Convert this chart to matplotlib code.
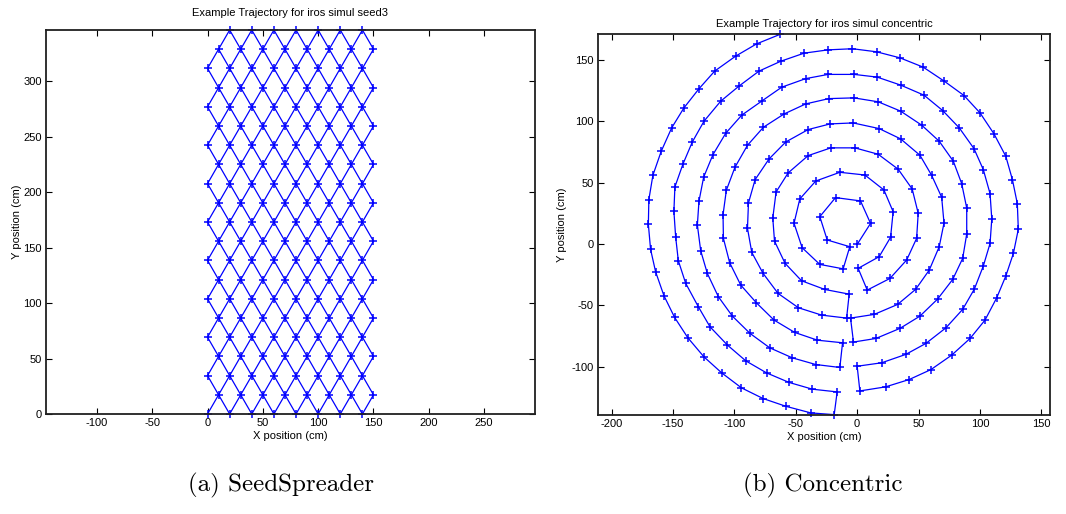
import matplotlib
matplotlib.use("Agg")
import matplotlib.pyplot as plt

plt.rcParams["font.family"] = ["Liberation Sans", "DejaVu Sans"]
plt.rcParams["axes.unicode_minus"] = False

# ---------------- SeedSpreader lattice ----------------
# rows of the diamond lattice (y, cm); even rows hold even_row_x, odd rows odd_row_x
row_y = [0.0, 17.3, 34.6, 52.0, 69.3, 86.6, 103.9, 121.2, 138.6, 155.9, 173.2,
         190.5, 207.8, 225.2, 242.5, 259.8, 277.1, 294.4, 311.8, 329.1, 346.4]
even_row_x = [0, 20, 40, 60, 80, 100, 120, 140]
odd_row_x = [10, 30, 50, 70, 90, 110, 130, 150]
unvisited = [(0, 346.4)]

# ---------------- Concentric rings (cm), in travel order ----------------
ring_1 = [(0.0, -0.3), (10.9, 16.8), (2.7, 35.1), (-17.6, 37.8), (-30.4, 22.3),
          (-24.4, 3.3), (-6.0, -2.2)]
ring_2 = [(-11.4, -20.2), (-30.4, -16.6), (-44.8, -3.0), (-51.4, 16.9), (-46.7, 36.7),
          (-33.7, 51.3), (-14.1, 58.4), (6.3, 56.2), (21.8, 44.0), (29.3, 26.3),
          (27.2, 5.5), (17.9, -10.3), (0.8, -19.8)]
ring_3 = [(8.2, -37.5), (26.7, -28.0), (40.3, -13.0), (48.4, 4.6), (49.7, 25.0),
          (44.8, 44.8), (33.4, 60.9), (17.1, 73.1), (-1.9, 78.3), (-21.4, 78.3),
          (-39.9, 72.0), (-56.2, 57.9), (-66.0, 42.4), (-68.7, 21.2), (-67.3, 2.4),
          (-58.7, -15.7), (-45.3, -29.9), (-26.3, -37.0), (-6.5, -40.8)]
ring_4 = [(-8.6, -60.3), (-28.8, -57.9), (-47.8, -51.9), (-64.4, -40.2), (-76.6, -23.9),
          (-85.8, -6.8), (-89.3, 12.8), (-88.5, 33.4), (-83.1, 52.4), (-71.7, 69.3),
          (-58.1, 83.1), (-39.9, 93.2), (-22.0, 97.8), (-3.3, 98.6), (17.9, 94.0),
          (35.4, 85.6), (51.1, 72.3), (60.6, 56.0), (68.8, 38.1), (70.7, 17.1),
          (66.8, -2.2), (58.7, -21.2), (47.6, -36.9), (32.9, -49.2), (13.9, -57.3),
          (-5.4, -60.3)]
ring_5 = [(-3.0, -79.8), (15.2, -76.9), (34.8, -68.7), (51.1, -58.7), (65.5, -44.8),
          (77.8, -28.8), (85.9, -11.7), (89.2, 8.2), (89.2, 29.3), (85.1, 49.2),
          (78.3, 67.4), (66.8, 83.7), (52.5, 96.8), (35.4, 108.2), (17.1, 115.8),
          (-2.7, 119.0), (-23.0, 118.4), (-41.8, 114.1), (-59.5, 105.9), (-76.3, 95.1),
          (-89.3, 80.4), (-99.5, 62.5), (-106.5, 43.8), (-109.2, 23.9), (-108.9, 4.6),
          (-103.8, -15.2), (-94.8, -33.4), (-82.0, -47.9), (-67.7, -61.9), (-50.8, -72.0),
          (-32.3, -78.3), (-11.9, -80.4)]
ring_6 = [(-14.1, -100.5), (-33.7, -98.1), (-52.7, -92.7), (-71.2, -84.5), (-87.2, -72.8),
          (-101.6, -58.7), (-113.0, -42.9), (-122.0, -23.9), (-127.4, -5.4), (-130.1, 15.5),
          (-128.8, 34.8), (-125.0, 54.4), (-117.4, 72.8), (-107.0, 90.2), (-94.0, 104.9),
          (-77.1, 116.8), (-61.4, 127.7), (-41.8, 134.7), (-23.6, 138.1), (-2.4, 138.1),
          (16.3, 135.9), (35.4, 129.4), (54.4, 121.2), (69.6, 108.7), (83.1, 94.6),
          (95.1, 77.7), (102.7, 60.6), (108.2, 41.0), (109.6, 20.4), (108.2, 0.5),
          (102.7, -17.9), (95.4, -36.7), (85.9, -53.2), (72.3, -68.2), (56.0, -80.9),
          (39.5, -89.9), (19.9, -96.7), (0.0, -99.5)]
ring_7 = [(2.2, -119.6), (23.1, -116.3), (42.4, -110.3), (60.1, -102.2), (76.9, -90.5),
          (91.9, -76.9), (104.1, -61.9), (113.6, -43.8), (121.0, -26.1), (127.2, -7.6),
          (131.2, 12.0), (130.4, 32.9), (126.4, 52.4), (121.0, 71.5), (111.4, 89.7),
          (100.0, 106.8), (87.0, 120.9), (70.9, 132.6), (53.8, 144.0), (34.8, 151.6),
          (15.8, 156.5), (-3.8, 159.0), (-23.6, 158.1), (-43.2, 155.4), (-62.0, 148.9),
          (-79.9, 140.8), (-96.2, 128.6), (-111.1, 116.3), (-124.7, 100.0), (-134.2, 83.1),
          (-141.8, 65.2), (-148.4, 46.5), (-149.2, 26.6), (-147.8, 6.0), (-145.6, -13.6),
          (-139.6, -32.0), (-129.3, -51.1), (-119.8, -67.4), (-105.6, -82.3), (-90.7, -95.1),
          (-73.8, -104.9), (-55.4, -112.7), (-36.4, -118.2), (-16.3, -120.4)]
ring_8 = [(-18.7, -138.9), (-37.7, -137.5), (-58.1, -132.1), (-76.6, -125.8), (-94.2, -117.1),
          (-110.3, -104.9), (-124.7, -91.9), (-137.8, -76.4), (-148.6, -59.8), (-157.3, -42.1),
          (-164.1, -22.6), (-168.2, -4.3), (-170.0, 16.0), (-169.6, 36.1), (-166.3, 56.0),
          (-159.5, 75.6), (-151.0, 94.6), (-141.0, 110.9), (-128.8, 126.4), (-116.0, 140.8),
          (-98.9, 153.0), (-81.8, 163.0), (-62.8, 170.7)]

left_xticks = [-100, -50, 0, 50, 100, 150, 200, 250]
left_yticks = [0, 50, 100, 150, 200, 250, 300]
right_xticks = [-200, -150, -100, -50, 0, 50, 100, 150]
right_yticks = [-100, -50, 0, 50, 100, 150]

BLUE = (0.0, 0.0, 1.0)
W, H = 1066, 514
fig = plt.figure(figsize=(W / 100, H / 100), dpi=100)


def box(l, t, r, b):
    return [l / W, 1 - b / H, (r - l) / W, (b - t) / H]


def style(ax):
    ax.tick_params(direction="in", length=4, width=0.8, top=True, right=True,
                   labelsize=8, pad=3, colors="black")
    for s in ax.spines.values():
        s.set_linewidth(1.3)
        s.set_color("#202020")


# ---- left panel: diamond lattice ----
ax1 = fig.add_axes(box(46, 30, 535, 414))
nodes = {}
for k, y in enumerate(row_y):
    xs = even_row_x if k % 2 == 0 else odd_row_x
    for x in xs:
        if (x, y) not in unvisited:
            nodes[(x // 10, k)] = (x, y)

# diagonals of both directions through the visited nodes
for step in (1, -1):
    starts = sorted({i - step * k for (i, k) in nodes})
    for c in starts:
        line = sorted((k, nodes[(i, k)]) for (i, k) in nodes if i - step * k == c)
        if len(line) < 2:
            continue
        # split into runs of consecutive rows
        run = [line[0]]
        for item in line[1:]:
            if item[0] == run[-1][0] + 1:
                run.append(item)
            else:
                if len(run) > 1:
                    ax1.plot([p[1][0] for p in run], [p[1][1] for p in run], "-",
                             color=BLUE, lw=0.9)
                run = [item]
        if len(run) > 1:
            ax1.plot([p[1][0] for p in run], [p[1][1] for p in run], "-",
                     color=BLUE, lw=0.9)

ax1.plot([p[0] for p in nodes.values()], [p[1] for p in nodes.values()], "+",
         color=BLUE, ms=5.5, mew=1.1, clip_on=False)
ax1.set_xlim(-146, 296)
ax1.set_ylim(0, 346.4)
ax1.set_xticks(left_xticks)
ax1.set_yticks(left_yticks)
style(ax1)
ax1.set_title("Example Trajectory for iros simul seed3", fontsize=8, pad=10)
ax1.set_xlabel("X position (cm)", fontsize=8, labelpad=2)
ax1.set_ylabel("Y position (cm)", fontsize=8, labelpad=1)

# ---- right panel: concentric rings ----
ax2 = fig.add_axes(box(598, 34, 1050, 415))
path = ring_1 + ring_2 + ring_3 + ring_4 + ring_5 + ring_6 + ring_7 + ring_8
ax2.plot([p[0] for p in path], [p[1] for p in path], "-+", color=BLUE, lw=0.9,
         ms=5.5, mew=1.1, clip_on=False)
ax2.set_xlim(-211, 157)
ax2.set_ylim(-139.2, 171.0)
ax2.set_xticks(right_xticks)
ax2.set_yticks(right_yticks)
style(ax2)
ax2.set_title("Example Trajectory for iros simul concentric", fontsize=8, pad=5)
ax2.set_xlabel("X position (cm)", fontsize=8, labelpad=2)
ax2.set_ylabel("Y position (cm)", fontsize=8, labelpad=3)

# sub-figure captions
fig.text(281 / W, 1 - 485 / H, "(a) SeedSpreader", family="cmr10", fontsize=18,
         ha="center", va="center")
fig.text(823 / W, 1 - 485 / H, "(b) Concentric", family="cmr10", fontsize=18,
         ha="center", va="center")

fig.savefig("out.png", dpi=100)
